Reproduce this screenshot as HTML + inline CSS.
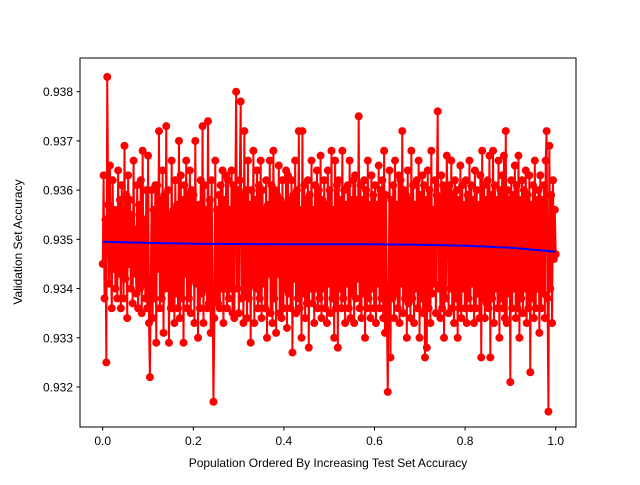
<!DOCTYPE html>
<html><head><meta charset="utf-8"><style>
body{margin:0;background:#fff}
svg text{font-family:"Liberation Sans","DejaVu Sans",sans-serif;font-size:12px;fill:#000}
</style></head><body>
<svg id="chart" width="640" height="480" xmlns="http://www.w3.org/2000/svg">
<rect x="0" y="0" width="640" height="480" fill="#fff"/>
<g id="plot"></g>
<rect x="80" y="58" width="496" height="369" fill="none" stroke="#000" stroke-width="1"/>
<g id="xt"></g>
<g id="yt"></g>
<text x="328" y="467" text-anchor="middle">Population Ordered By Increasing Test Set Accuracy</text>
<text transform="translate(22,242) rotate(-90)" text-anchor="middle">Validation Set Accuracy</text>
</svg>
<script>
const accuracy = [
.9345,.9363,.9338,.9354,.9325,.9383,.9357,.9341,.9365,.9347,.9336,.9362,.9344,.9356,.9340,.9355,.9338,.9364,.9343,.9358,
.9336,.9361,.9348,.9338,.9369,.9342,.9359,.9334,.9363,.9345,.9358,.9340,.9355,.9337,.9366,.9343,.9352,.9339,.9361,.9336,
.9357,.9340,.9362,.9335,.9368,.9341,.9354,.9338,.9360,.9336,.9367,.9333,.9322,.9342,.9360,.9334,.9356,.9338,.9361,.9329,
.9361,.9344,.9372,.9336,.9358,.9338,.9364,.9331,.9359,.9340,.9373,.9341,.9360,.9329,.9355,.9336,.9366,.9336,.9356,.9333,
.9362,.9339,.9357,.9336,.9370,.9334,.9363,.9338,.9358,.9329,.9361,.9343,.9366,.9336,.9359,.9338,.9364,.9335,.9360,.9342,
.9359,.9333,.9370,.9341,.9356,.9330,.9357,.9336,.9362,.9339,.9373,.9333,.9361,.9340,.9356,.9336,.9374,.9337,.9358,.9331,
.9362,.9340,.9317,.9334,.9366,.9338,.9356,.9337,.9359,.9336,.9361,.9340,.9364,.9333,.9358,.9340,.9363,.9336,.9362,.9338,
.9356,.9340,.9364,.9335,.9361,.9334,.9357,.9380,.9340,.9360,.9335,.9362,.9378,.9338,.9359,.9333,.9372,.9339,.9360,.9334,
.9366,.9338,.9357,.9329,.9360,.9341,.9368,.9333,.9358,.9340,.9364,.9336,.9361,.9338,.9366,.9334,.9360,.9341,.9356,.9336,
.9362,.9330,.9357,.9343,.9366,.9335,.9361,.9333,.9368,.9338,.9360,.9331,.9359,.9343,.9365,.9335,.9358,.9334,.9362,.9336,
.9357,.9340,.9364,.9332,.9363,.9339,.9358,.9336,.9362,.9327,.9359,.9342,.9366,.9335,.9360,.9338,.9372,.9336,.9356,.9330,
.9372,.9339,.9361,.9334,.9358,.9337,.9362,.9328,.9359,.9340,.9366,.9337,.9356,.9333,.9361,.9340,.9364,.9336,.9360,.9338,
.9367,.9334,.9358,.9340,.9362,.9336,.9357,.9333,.9364,.9341,.9360,.9335,.9368,.9338,.9356,.9330,.9366,.9336,.9361,.9328,
.9362,.9340,.9358,.9336,.9368,.9338,.9360,.9333,.9357,.9341,.9361,.9336,.9366,.9334,.9358,.9339,.9362,.9333,.9363,.9338,
.9358,.9342,.9375,.9336,.9361,.9334,.9358,.9339,.9362,.9330,.9360,.9336,.9366,.9338,.9357,.9334,.9363,.9340,.9359,.9336,
.9361,.9333,.9357,.9341,.9365,.9336,.9360,.9338,.9362,.9334,.9368,.9331,.9359,.9336,.9319,.9340,.9364,.9326,.9358,.9338,
.9361,.9334,.9366,.9339,.9357,.9336,.9363,.9333,.9362,.9341,.9372,.9335,.9360,.9338,.9359,.9330,.9364,.9337,.9358,.9334,
.9368,.9338,.9361,.9333,.9357,.9340,.9362,.9336,.9366,.9330,.9359,.9338,.9363,.9335,.9361,.9326,.9358,.9328,.9364,.9336,
.9360,.9333,.9368,.9339,.9356,.9341,.9362,.9335,.9359,.9376,.9340,.9358,.9334,.9363,.9336,.9361,.9330,.9360,.9338,.9367,
.9357,.9335,.9361,.9340,.9366,.9336,.9359,.9333,.9362,.9338,.9360,.9330,.9358,.9336,.9365,.9334,.9361,.9340,.9357,.9336,
.9362,.9333,.9359,.9338,.9366,.9336,.9361,.9341,.9358,.9333,.9364,.9336,.9360,.9339,.9357,.9334,.9363,.9326,.9368,.9338,
.9361,.9334,.9358,.9337,.9362,.9336,.9367,.9326,.9359,.9338,.9368,.9333,.9361,.9340,.9358,.9336,.9366,.9330,.9360,.9338,
.9363,.9336,.9367,.9334,.9372,.9333,.9360,.9339,.9358,.9321,.9362,.9336,.9359,.9340,.9365,.9334,.9361,.9336,.9367,.9330,
.9358,.9338,.9362,.9335,.9360,.9340,.9364,.9333,.9359,.9336,.9363,.9323,.9357,.9338,.9361,.9334,.9366,.9336,.9358,.9340,
.9360,.9331,.9363,.9336,.9358,.9339,.9361,.9334,.9366,.9372,.9338,.9315,.9369,.9340,.9359,.9333,.9362,.9346,.9356,.9347
];
const smoothX = [0,0.2,0.4,0.6,0.7,0.8,0.9,1.0];
const smoothY = [0.93495,0.93491,0.93490,0.93490,0.93489,0.93487,0.93483,0.93475];
const xTicks = [0.0,0.2,0.4,0.6,0.8,1.0];
const xTickLabels = ["0.0","0.2","0.4","0.6","0.8","1.0"];
const yTicks = [0.932,0.933,0.934,0.935,0.936,0.937,0.938];
const yTickLabels = ["0.932","0.933","0.934","0.935","0.936","0.937","0.938"];

const X0=102.7, X1=555.7, YA=0.932, YAp=387, YB=0.938, YBp=91.7;
function sx(v){return X0+(X1-X0)*v;}
function sy(v){return YAp+(YBp-YAp)*(v-YA)/(YB-YA);}
const NS="http://www.w3.org/2000/svg";
const plot=document.getElementById('plot');
const n=accuracy.length;
let d="";
accuracy.forEach((v,i)=>{d+=(i?"L":"M")+sx(i/(n-1)).toFixed(2)+","+sy(v).toFixed(2);});
const line=document.createElementNS(NS,'path');
line.setAttribute('d',d);line.setAttribute('fill','none');line.setAttribute('stroke','#ff0000');line.setAttribute('stroke-width','2');


plot.appendChild(line);
accuracy.forEach((v,i)=>{
  const c=document.createElementNS(NS,'circle');
  c.setAttribute('cx',sx(i/(n-1)));c.setAttribute('cy',sy(v));c.setAttribute('r','4');c.setAttribute('fill','#ff0000');
  
  
  plot.appendChild(c);
});
let d2="";
smoothX.forEach((x,i)=>{d2+=(i?"L":"M")+sx(x).toFixed(2)+","+sy(smoothY[i]).toFixed(2);});
const tr=document.createElementNS(NS,'path');
tr.setAttribute('d',d2);tr.setAttribute('fill','none');tr.setAttribute('stroke','#0000ff');tr.setAttribute('stroke-width','2');


plot.appendChild(tr);
const xt=document.getElementById('xt');
xTicks.forEach((t,i)=>{
  const x=sx(t);
  const l=document.createElementNS(NS,'line');
  l.setAttribute('x1',x);l.setAttribute('x2',x);l.setAttribute('y1',427);l.setAttribute('y2',430.5);l.setAttribute('stroke','#000');
  
  
  xt.appendChild(l);
  const tx=document.createElementNS(NS,'text');
  tx.setAttribute('x',x);tx.setAttribute('y',445);tx.setAttribute('text-anchor','middle');tx.textContent=xTickLabels[i];
  
  
  xt.appendChild(tx);
});
const yt=document.getElementById('yt');
yTicks.forEach((t,i)=>{
  const y=sy(t);
  const l=document.createElementNS(NS,'line');
  l.setAttribute('x1',76.5);l.setAttribute('x2',80);l.setAttribute('y1',y);l.setAttribute('y2',y);l.setAttribute('stroke','#000');
  
  
  yt.appendChild(l);
  const tx=document.createElementNS(NS,'text');
  tx.setAttribute('x',73);tx.setAttribute('y',y+4.5);tx.setAttribute('text-anchor','end');tx.textContent=yTickLabels[i];
  
  
  yt.appendChild(tx);
});
</script>
</body></html>
